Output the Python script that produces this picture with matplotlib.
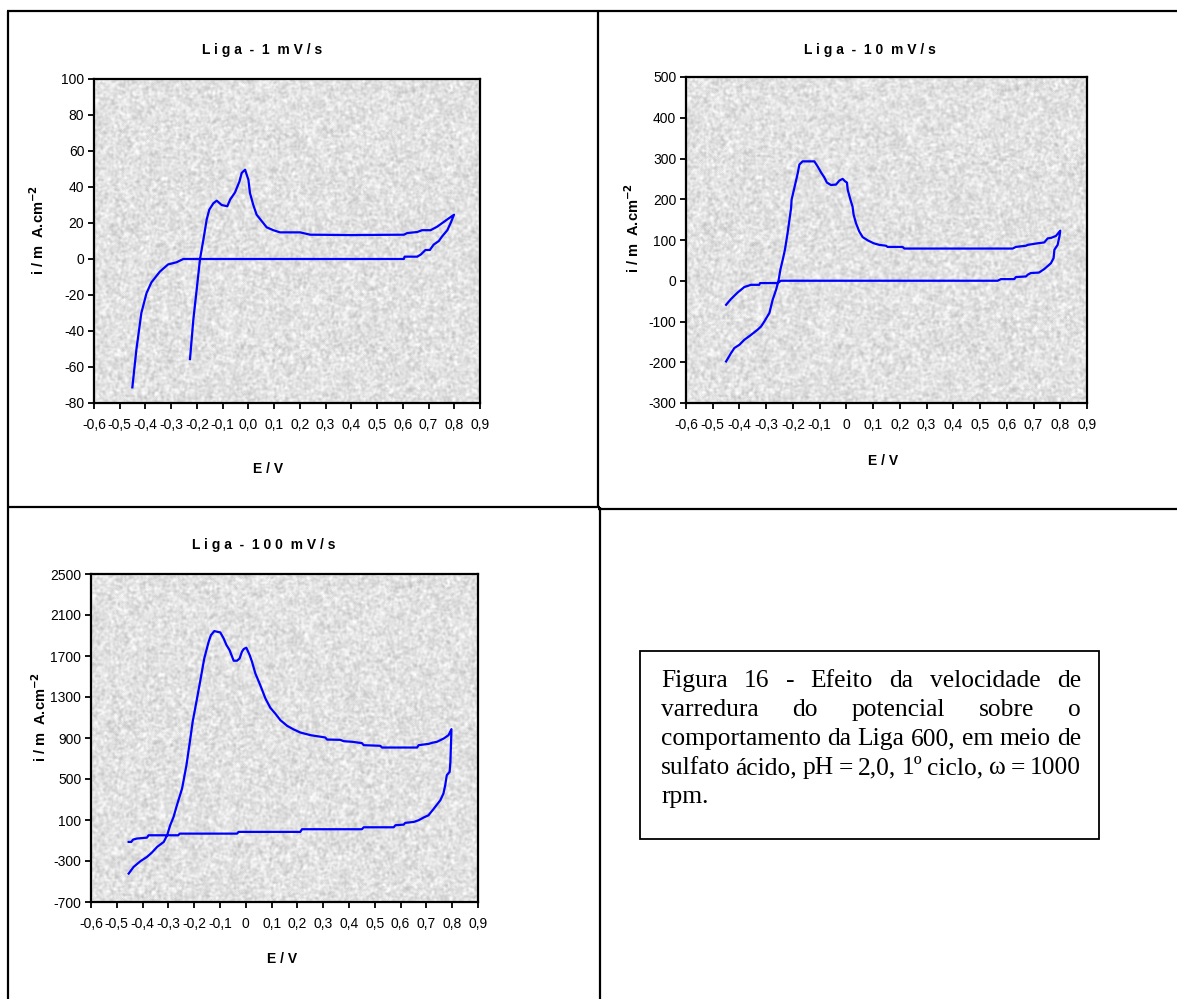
import numpy as np
import matplotlib
matplotlib.use("Agg")
import matplotlib.pyplot as plt
from matplotlib.lines import Line2D
from matplotlib.patches import Rectangle

# curvas voltametricas - Liga 600, sulfato acido pH 2,0
# 1 mV/s
e1_ida = [-0.451, -0.435, -0.416, -0.396, -0.377, -0.344, -0.312, -0.279, -0.253, 0.0,
          0.30, 0.604, 0.607, 0.656, 0.670, 0.688, 0.705, 0.720, 0.740, 0.753,
          0.773, 0.786, 0.799]
i1_ida = [-71.3, -50, -30, -19, -13, -7, -3, -1.8, 0, 0,
          0, 0, 1.3, 1.3, 2.5, 5, 5, 8, 10, 12.6,
          16, 20, 24.6]
e1_volta = [0.773, 0.734, 0.708, 0.675, 0.656, 0.617, 0.604, 0.40, 0.240, 0.201,
            0.123, 0.097, 0.071, 0.052, 0.032, 0.019, 0.006, 0.000, -0.013, -0.026,
            -0.035, -0.052, -0.071, -0.082, -0.104, -0.123, -0.136, -0.152, -0.162, -0.175,
            -0.188, -0.201, -0.214, -0.227]
i1_volta = [22, 18, 16, 16, 15, 14.4, 13.5, 13.3, 13.5, 14.8,
            14.8, 16, 17.6, 21, 24.6, 30, 36.7, 44, 49.6, 47.8,
            43, 37, 33, 29.3, 30, 32.4, 31, 27.4, 22, 10.7,
            0, -17, -33.7, -55.6]

# 10 mV/s
e2_ida = [-0.450, -0.432, -0.407, -0.382, -0.357, -0.326, -0.323, -0.257, -0.245, 0.566,
          0.578, 0.628, 0.634, 0.672, 0.678, 0.690, 0.720, 0.740, 0.765, 0.775,
          0.778, 0.790, 0.797, 0.800]
i2_ida = [-59, -45, -29, -15.5, -10, -10, -5.7, -5.7, 0, 0,
          4, 4, 9, 10.6, 14.7, 19, 20, 28.6, 43, 55.6,
          76, 88, 109, 123]
e2_volta = [0.784, 0.765, 0.753, 0.740, 0.716, 0.678, 0.672, 0.634, 0.622, 0.217,
            0.210, 0.154, 0.148, 0.123, 0.102, 0.080, 0.061, 0.048, 0.036, 0.027,
            0.023, 0.015, 0.005, 0.002, -0.005, -0.014, -0.026, -0.039, -0.058, -0.073,
            -0.083, -0.095, -0.108, -0.120, -0.164, -0.176, -0.182, -0.195, -0.205, -0.207,
            -0.220, -0.230, -0.238, -0.247, -0.254, -0.263, -0.276, -0.288, -0.307, -0.319,
            -0.332, -0.357, -0.382, -0.400, -0.419, -0.432, -0.450]
i2_volta = [110, 105, 104, 94, 92, 88, 86, 83, 79, 79,
            83, 83, 86, 88, 92, 99, 107, 121, 141, 162,
            182, 199, 223, 241, 244, 250, 246, 236, 235, 241,
            254, 266, 281, 293, 293, 285, 264, 227, 199, 178,
            117, 76, 52, 27, 0, -22, -47, -79, -100, -112,
            -120, -133, -145, -157, -165, -178, -198]

# 100 mV/s
e3_ida = [-0.454, -0.444, -0.437, -0.422, -0.383, -0.377, -0.262, -0.256, -0.034, -0.028,
          0.211, 0.218, 0.450, 0.457, 0.573, 0.580, 0.612, 0.618, 0.651, 0.670,
          0.689, 0.708, 0.727, 0.754, 0.766, 0.773, 0.779, 0.790, 0.793, 0.796,
          0.797]
i3_ida = [-114, -114, -91, -81, -72, -49, -49, -33, -33, -16,
          -16, 10, 10, 29, 29, 49, 55, 72, 81, 98,
          124, 146, 205, 293, 358, 440, 537, 570, 667, 895,
          986]
e3_volta = [0.786, 0.767, 0.741, 0.722, 0.709, 0.670, 0.664, 0.528, 0.521, 0.457,
            0.450, 0.412, 0.379, 0.366, 0.315, 0.308, 0.250, 0.211, 0.186, 0.160,
            0.134, 0.114, 0.095, 0.076, 0.056, 0.037, 0.024, 0.015, 0.002, -0.008,
            -0.015, -0.024, -0.034, -0.047, -0.053, -0.063, -0.075, -0.086, -0.099, -0.122,
            -0.135, -0.144, -0.161, -0.176, -0.189, -0.206, -0.215, -0.230, -0.247, -0.267,
            -0.280, -0.293, -0.305, -0.318, -0.344, -0.364, -0.383, -0.409, -0.435, -0.454]
i3_volta = [928, 895, 863, 853, 843, 830, 807, 807, 824, 830,
            850, 863, 869, 882, 885, 905, 928, 954, 983, 1019,
            1074, 1139, 1195, 1286, 1416, 1530, 1644, 1709, 1781, 1768,
            1742, 1676, 1654, 1654, 1693, 1758, 1807, 1872, 1930, 1943,
            1904, 1839, 1676, 1465, 1286, 1058, 895, 635, 407, 244,
            130, 49, -49, -114, -163, -218, -260, -303, -358, -423]

titulos = ["L i g a  -  1  m V / s", "L i g a  -  1 0  m V / s", "L i g a  -  1 0 0  m V / s"]
x_ticks = [-0.6, -0.5, -0.4, -0.3, -0.2, -0.1, 0.0, 0.1, 0.2, 0.3, 0.4, 0.5, 0.6, 0.7, 0.8, 0.9]
x_lab1 = ["-0,6", "-0,5", "-0,4", "-0,3", "-0,2", "-0,1", "0,0", "0,1", "0,2", "0,3",
          "0,4", "0,5", "0,6", "0,7", "0,8", "0,9"]
x_lab23 = ["-0,6", "-0,5", "-0,4", "-0,3", "-0,2", "-0,1", "0", "0,1", "0,2", "0,3",
           "0,4", "0,5", "0,6", "0,7", "0,8", "0,9"]
y_ticks1 = [-80, -60, -40, -20, 0, 20, 40, 60, 80, 100]
y_ticks2 = [-300, -200, -100, 0, 100, 200, 300, 400, 500]
y_ticks3 = [-700, -300, 100, 500, 900, 1300, 1700, 2100, 2500]

legenda = ["Figura 16 - Efeito da velocidade de",
           "varredura do potencial sobre o",
           "comportamento da Liga 600, em meio de",
           "sulfato ácido, pH = 2,0, 1º ciclo, ω = 1000",
           "rpm."]

W, H = 1177, 999
plt.rcParams['font.family'] = ['Liberation Sans', 'DejaVu Sans']
fig = plt.figure(figsize=(W / 100, H / 100), dpi=100)


def fx(x):
    return x / W


def fy(y):
    return 1 - y / H


def eixo(l, t, r, b):
    return fig.add_axes([fx(l), fy(b), (r - l) / W, (b - t) / H])


# textura granulada do fundo da area de plotagem
rng = np.random.default_rng(7)
ruido = rng.random((330, 400))
for _ in range(2):
    ruido = (ruido + np.roll(ruido, 1, 0) + np.roll(ruido, -1, 0)
             + np.roll(ruido, 1, 1) + np.roll(ruido, -1, 1)) / 5
ruido = (ruido - ruido.mean()) / ruido.std()
textura = np.clip(0.885 + 0.04 * ruido, 0.74, 0.99)


def painel(ax, e, i, yt, xl, ylim):
    ax.imshow(textura, cmap='gray', vmin=0, vmax=1, extent=[0, 1, 0, 1],
              transform=ax.transAxes, aspect='auto', zorder=0, interpolation='bilinear')
    ax.plot(e, i, color='#0000ff', lw=1.6, zorder=3)
    ax.set_xlim(-0.6, 0.9)
    ax.set_ylim(*ylim)
    ax.set_xticks(x_ticks)
    ax.set_xticklabels(xl)
    ax.set_yticks(yt)
    ax.set_yticklabels([str(v) for v in yt])
    ax.tick_params(direction='out', length=4, width=1.3, labelsize=10, pad=3)
    ax.tick_params(axis='x', pad=7)
    for s in ax.spines.values():
        s.set_linewidth(1.6)
        s.set_color('black')


ax1 = eixo(94, 79, 480, 403)
painel(ax1, e1_ida + e1_volta, i1_ida + i1_volta, y_ticks1, x_lab1, (-80, 100))
ax2 = eixo(686, 77, 1087, 403)
painel(ax2, e2_ida + e2_volta, i2_ida + i2_volta, y_ticks2, x_lab23, (-300, 500))
ax3 = eixo(91, 574, 478, 902)
painel(ax3, e3_ida + e3_volta, i3_ida + i3_volta, y_ticks3, x_lab23, (-700, 2500))

ylabel = r"i / m  A.cm$^{\mathbf{-2}}$"
for (tx, ty), (lx, ly), (yx, yy), tt in zip(
        [(262, 50), (870, 50), (264, 545)],
        [(268, 469), (883, 461), (282, 959)],
        [(38, 230), (633, 228), (40, 717)],
        titulos):
    fig.text(fx(tx), fy(ty), tt, ha='center', va='center', fontsize=10, fontweight='bold')
    fig.text(fx(lx), fy(ly), "E / V", ha='center', va='center', fontsize=10, fontweight='bold')
    fig.text(fx(yx), fy(yy), ylabel, ha='center', va='center', rotation=90,
             fontsize=10.5, fontweight='bold')

# molduras das celulas
bordas = [((7, 11), (1177, 11)), ((8, 11), (8, 999)), ((598, 11), (598, 507)),
          ((8, 507), (600, 507)), ((598, 509), (1177, 509)), ((600, 507), (600, 999))]
for (x0, y0), (x1, y1) in bordas:
    fig.add_artist(Line2D([fx(x0), fx(x1)], [fy(y0), fy(y1)], transform=fig.transFigure,
                          color='black', lw=1.6, solid_capstyle='butt'))

# caixa da legenda da figura
fig.add_artist(Rectangle((fx(640), fy(839)), (1099 - 640) / W, (839 - 651) / H,
                         transform=fig.transFigure, fill=False, ec='black', lw=1.3))

renderer = fig.canvas.get_renderer()
x_esq, x_dir = 661, 1081

# tamanho da fonte: a terceira linha ocupa a largura toda com espacos normais
teste = fig.text(0, 0, legenda[2], fontsize=10, family='Liberation Serif')
fs = 10 * (x_dir - x_esq) / teste.get_window_extent(renderer).width
teste.remove()

base = [687, 716, 745, 774, 803]
for k, linha in enumerate(legenda):
    palavras = linha.split()
    objs = [fig.text(0, fy(base[k]), p, fontsize=fs, family='Liberation Serif',
                     va='baseline', ha='left') for p in palavras]
    larg = [o.get_window_extent(renderer).width for o in objs]
    if k == len(legenda) - 1 or len(palavras) == 1:
        objs[0].set_x(fx(x_esq))
        continue
    gap = (x_dir - x_esq - sum(larg)) / (len(palavras) - 1)
    x = x_esq
    for o, w in zip(objs, larg):
        o.set_x(fx(x))
        x += w + gap

fig.savefig("out.png", dpi=100)
